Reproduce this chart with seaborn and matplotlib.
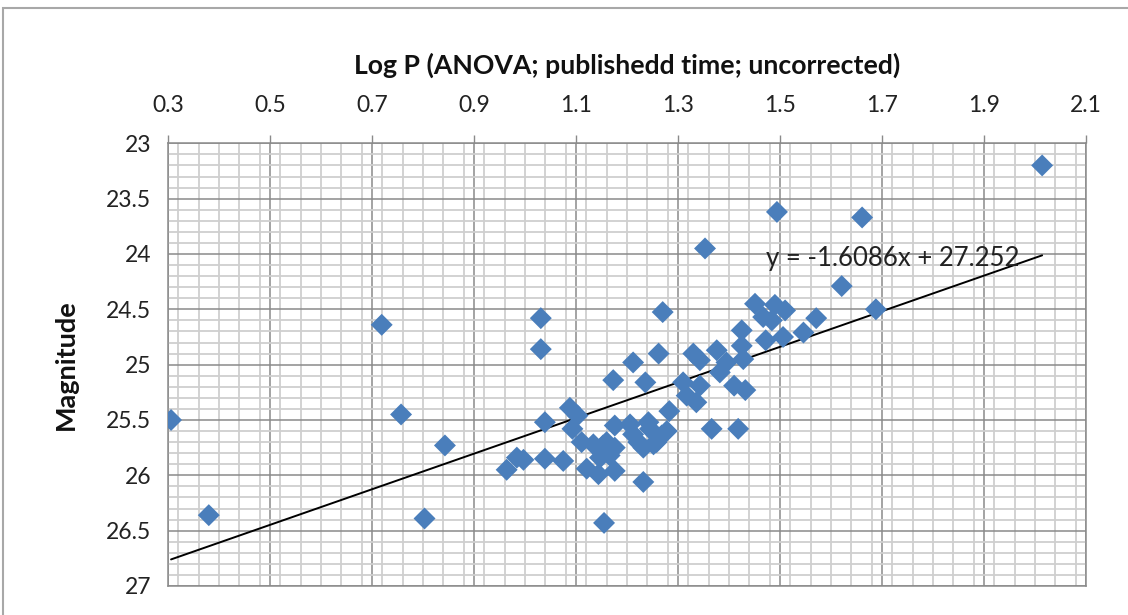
import numpy as np
import pandas as pd
import matplotlib
matplotlib.use("Agg")
import matplotlib.pyplot as plt
import seaborn as sns
from matplotlib.ticker import MultipleLocator
from matplotlib.patches import Rectangle

# Log P values and magnitudes of the sample
log_p = [
    0.306, 0.380, 0.719, 0.757, 0.803, 0.843, 0.964, 0.984, 0.997, 1.031,
    1.031, 1.039, 1.039, 1.075, 1.088, 1.103, 1.093, 1.111, 1.134, 1.153,
    1.160, 1.176, 1.147, 1.166, 1.121, 1.144, 1.176, 1.155, 1.176, 1.173,
    1.206, 1.212, 1.212, 1.222, 1.232, 1.232, 1.236, 1.245, 1.242, 1.252,
    1.258, 1.262, 1.268, 1.270, 1.278, 1.283, 1.310, 1.317, 1.330, 1.336,
    1.343, 1.343, 1.353, 1.366, 1.376, 1.382, 1.395, 1.410, 1.418, 1.425,
    1.425, 1.428, 1.432, 1.451, 1.467, 1.472, 1.484, 1.490, 1.494, 1.506,
    1.510, 1.546, 1.571, 1.621, 1.661, 1.688, 2.014,
]
magnitude = [
    25.50, 26.36, 24.64, 25.45, 26.39, 25.73, 25.95, 25.84, 25.86, 24.58,
    24.86, 25.52, 25.85, 25.87, 25.39, 25.46, 25.58, 25.70, 25.72, 25.73,
    25.70, 25.75, 25.84, 25.82, 25.94, 25.99, 25.96, 26.43, 25.55, 25.14,
    25.54, 24.98, 25.63, 25.70, 25.75, 26.06, 25.16, 25.58, 25.52, 25.72,
    25.70, 24.90, 25.64, 24.525, 25.60, 25.42, 25.16, 25.28, 24.90, 25.34,
    24.96, 25.19, 23.95, 25.58, 24.87, 25.07, 24.98, 25.19, 25.58, 24.69,
    24.83, 24.95, 25.23, 24.45, 24.57, 24.78, 24.60, 24.46, 23.62, 24.75,
    24.51, 24.71, 24.58, 24.29, 23.67, 24.50, 23.20,
]

# Linear trend: y = slope * x + intercept
slope = -1.6086
intercept = 27.252

x_ticks = [0.3, 0.5, 0.7, 0.9, 1.1, 1.3, 1.5, 1.7, 1.9, 2.1]
y_ticks = [23, 23.5, 24, 24.5, 25, 25.5, 26, 26.5, 27]

df = pd.DataFrame({"logp": log_p, "mag": magnitude})

sns.set_style("white")
plt.rcParams["font.family"] = ["Lato", "DejaVu Sans"]

W, H = 1128, 615
fig = plt.figure(figsize=(W / 100, H / 100), dpi=100)
ax = fig.add_axes([168 / W, 1 - 586 / H, (1086 - 168) / W, (586 - 143.3) / H])

# chart frame
fig.patches.append(Rectangle((3 / W, -0.05), 1.2, 1 - 8 / H + 0.05,
                             transform=fig.transFigure, fill=False,
                             edgecolor="#a8a8a8", linewidth=1.5))

ax.set_xlim(0.3, 2.1)
ax.set_ylim(27, 23)

ax.xaxis.set_minor_locator(MultipleLocator(0.04))
ax.yaxis.set_minor_locator(MultipleLocator(0.1))
ax.set_xticks(x_ticks)
ax.set_yticks(y_ticks)
ax.set_xticklabels([f"{v:.1f}" for v in x_ticks])
ax.set_yticklabels([f"{v:g}" for v in y_ticks])

ax.grid(which="minor", color="#cfcfcf", linewidth=1.3)
ax.grid(which="major", color="#8a8a8a", linewidth=1.1)
ax.set_axisbelow(True)

xs = np.array([min(log_p), max(log_p)])
ax.plot(xs, slope * xs + intercept, color="black", linewidth=1.4, zorder=3)

sns.scatterplot(data=df, x="logp", y="mag", marker="D", s=125,
                color="#4a7ebb", edgecolor="none", linewidth=0, ax=ax, zorder=4)

ax.text(1.473, 24.04, f"y = {slope}x + {intercept}", fontsize=18.5,
        color="#222222", va="center", ha="left", zorder=5)

ax.xaxis.tick_top()
ax.xaxis.set_label_position("top")
ax.tick_params(axis="x", which="major", direction="out", length=6, width=1,
               color="#8a8a8a", pad=14, labelsize=16.5, labelcolor="#222222")
ax.tick_params(axis="y", which="major", direction="out", length=7, width=1,
               color="#8a8a8a", pad=5, labelsize=16.5, labelcolor="#222222")
ax.tick_params(which="minor", length=0)

for s in ax.spines.values():
    s.set_color("#8a8a8a")
    s.set_linewidth(1.1)

ax.set_xlabel("Log P (ANOVA; publishedd time; uncorrected)", fontsize=19.2,
              fontweight="bold", color="#111111")
ax.set_ylabel("Magnitude", fontsize=19.5, fontweight="bold", color="#111111")
ax.xaxis.label.set_va("center")
ax.xaxis.set_label_coords(0.5, 1 + (143.3 - 65) / (586 - 143.3))
ax.yaxis.label.set_va("center")
ax.yaxis.set_label_coords((66 - 168) / (1086 - 168), 0.5)

fig.savefig("out.png", dpi=100)
